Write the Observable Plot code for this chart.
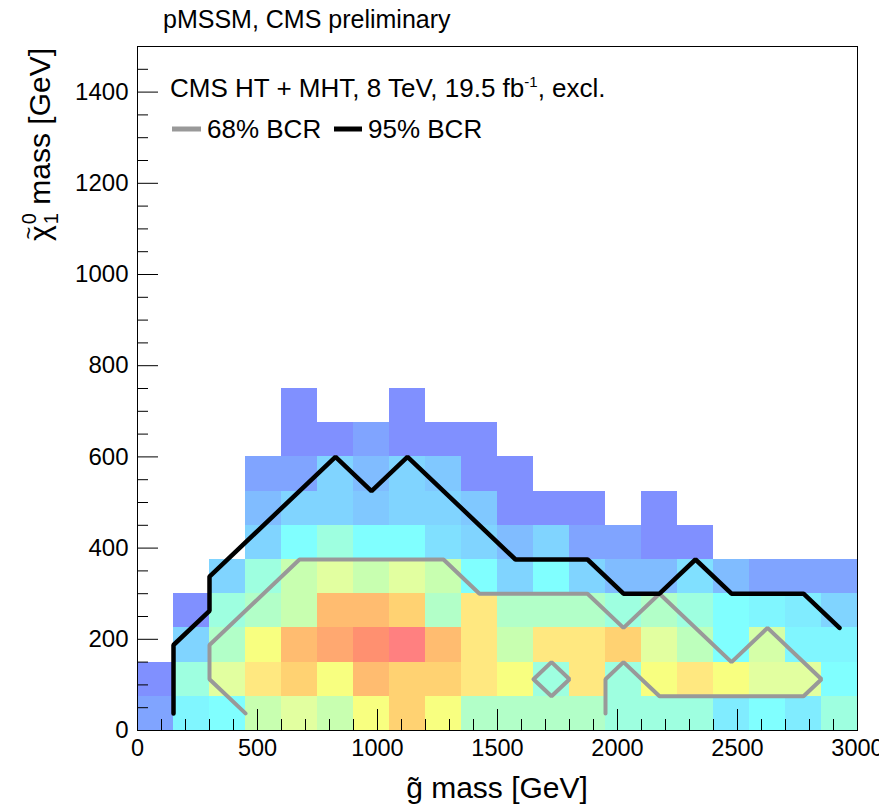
<!DOCTYPE html>
<html><head><meta charset="utf-8">
<script src="https://cdn.jsdelivr.net/npm/d3@7"></script>
<script src="https://cdn.jsdelivr.net/npm/@observablehq/plot@0.6"></script>
<style>
body{margin:0;background:#fff;}
#chart{position:relative;width:879px;height:811px;}
svg text{white-space:pre;}
</style></head><body><div id="chart"></div>
<script>
// Bin edges (GeV)
const xEdges = [0,150,300,450,600,750,900,1050,1200,1350,1500,1650,1800,1950,2100,2250,2400,2550,2700,2850,3000];
const yEdges = [0,75,150,225,300,375,450,525,600,675,750];

// Cell levels (colour index), row by row from bottom (y bin 0) to top
const row0 = [2,5.5,6,9,10,9,11,13,11,8,8,8,8,7,7,7,5,6,5,7];
const row1 = [1,7,10,12,13,11,14,13,13,12,11,7,12,7,11,12,11,10,10,6];
const row2 = [null,4,8,11,14,15,16,17,14,12,9,12,12,13,10,8.5,6,9.5,5.5,5.5];
const row3 = [null,1,7,8,9,14,14,13,8,12,8,8,8,7,8,7,6,5.5,5,4];
const row4 = [null,null,4,7,9,10,9,10,9,6,4,6,4,3,3,4.5,3,2,2,2];
const row5 = [null,null,null,4,6,7,6,6,4.5,4,3,4,2,2,1,1,null,null,null,null];
const row6 = [null,null,null,3,4,4,3.5,4,4,3.5,1,1,1,null,1,null,null,null,null,null];
const row7 = [null,null,null,2,2,4,3,4,3.5,1,1,null,null,null,null,null,null,null,null,null];
const row8 = [null,null,null,null,1,1,2,1,1,1,null,null,null,null,null,null,null,null,null,null];
const row9 = [null,null,null,null,1,null,null,1,null,null,null,null,null,null,null,null,null,null,null,null];
const zRows = [row0,row1,row2,row3,row4,row5,row6,row7,row8,row9];

// Colour levels -> palette (semi-transparent rainbow on white)
const levels  = [1,2,3,4,5,6,7,8,9,10,11,12,13,14,15,16,17];
const palette = ["#8090ff","#80a4ff","#80bcff","#80d4ff","#80ecff","#80ffff","#9effe0","#b2ffc8","#c8ffb0","#e2ffa0","#f8ff80","#ffe880","#ffd272","#ffbc70","#ffa870","#ff9070","#ff8080"];

// 95% BCR contour
const c95x = [150,150,300,300,825,975,1125,1575,1875,2025,2175,2325,2475,2775,2925];
const c95y = [37.5,187.5,262.5,337.5,600,525,600,375,375,300,300,375,300,300,225];
// 68% BCR contour (main) and island
const c68x = [450,300,300,675,1275,1425,1875,2025,2175,2475,2625,2850,2775,2175,2025,1950,1950];
const c68y = [37.5,112.5,187.5,375,375,300,300,225,300,150,225,112.5,75,75,150,112.5,37.5];
const c68bx = [1650,1725,1800,1725,1650];
const c68by = [112.5,150,112.5,75,112.5];

// Axis ticks
const xMajor = [0,500,1000,1500,2000,2500,3000];
const xMinor = [100,200,300,400,600,700,800,900,1100,1200,1300,1400,1600,1700,1800,1900,2100,2200,2300,2400,2600,2700,2800,2900];
const yMajor = [0,200,400,600,800,1000,1200,1400];
const yMinor = [50,100,150,250,300,350,450,500,550,650,700,750,850,900,950,1050,1100,1150,1250,1300,1350,1450];

const cells = [];
zRows.forEach((row, j) => row.forEach((z, i) => {
  if (z != null) cells.push({x1: xEdges[i], x2: xEdges[i+1], y1: yEdges[j], y2: yEdges[j+1], z});
}));
const pts = (xs, ys) => xs.map((x, k) => ({x, y: ys[k]}));

const FONT = "Liberation Sans, Arial, Helvetica, sans-serif";
const plot = Plot.plot({
  width: 879, height: 811,
  marginLeft: 137, marginRight: 22, marginTop: 46, marginBottom: 81,
  style: {fontFamily: FONT, background: "white", color: "black", overflow: "visible"},
  x: {domain: [0, 3000]},
  y: {domain: [0, 1500]},
  color: {type: "linear", domain: levels, range: palette},
  marks: [
    Plot.rect(cells, {x1: "x1", x2: "x2", y1: "y1", y2: "y2", fill: "z", shapeRendering: "crispEdges"}),
    Plot.line(pts(c68x, c68y), {x: "x", y: "y", stroke: "#999", strokeWidth: 4, strokeLinejoin: "miter"}),
    Plot.line(pts(c68bx, c68by), {x: "x", y: "y", stroke: "#999", strokeWidth: 4, strokeLinejoin: "miter"}),
    Plot.line(pts(c95x, c95y), {x: "x", y: "y", stroke: "black", strokeWidth: 4.5, strokeLinejoin: "miter"}),
    Plot.tickX(xMajor, {x: d => d, insetTop: 684 - 21, stroke: "black"}),
    Plot.tickX(xMinor, {x: d => d, insetTop: 684 - 11, stroke: "black"}),
    Plot.tickY(yMajor, {y: d => d, insetRight: 720 - 21, stroke: "black"}),
    Plot.tickY(yMinor, {y: d => d, insetRight: 720 - 11, stroke: "black"}),
    Plot.axisX(xMajor, {tickSize: 0, tickPadding: 9, fontSize: 23.5, label: null, tickFormat: d3.format("d")}),
    Plot.axisY(yMajor, {tickSize: 0, tickPadding: 9, fontSize: 24, label: null, tickFormat: d3.format("d")}),
    Plot.frame({stroke: "black"})
  ]
});
document.getElementById("chart").appendChild(plot);

const svg = d3.select(plot);
const g = svg.append("g").attr("font-family", FONT).attr("fill", "black").attr("text-anchor", "start");

// Title
g.append("text").attr("x", 163).attr("y", 28).attr("font-size", 25).text("pMSSM, CMS preliminary");

// Legend
const l1 = g.append("text").attr("x", 170).attr("y", 97).attr("font-size", 26);
l1.append("tspan").text("CMS HT + MHT, 8 TeV, 19.5 fb");
l1.append("tspan").attr("font-size", 15).attr("dy", -10).text("-1");
l1.append("tspan").attr("dy", 10).text(", excl.");
g.append("line").attr("x1", 172).attr("x2", 201).attr("y1", 129).attr("y2", 129).attr("stroke", "#999").attr("stroke-width", 5);
g.append("text").attr("x", 207).attr("y", 138).attr("font-size", 26).text("68% BCR");
g.append("line").attr("x1", 334).attr("x2", 362).attr("y1", 129).attr("y2", 129).attr("stroke", "black").attr("stroke-width", 5);
g.append("text").attr("x", 368).attr("y", 138).attr("font-size", 26).text("95% BCR");

// Axis titles
g.append("text").attr("x", 497).attr("y", 798).attr("text-anchor", "middle").attr("font-size", 30).text("g\u0303 mass [GeV]");
const yg = g.append("g").attr("transform", "translate(50,48) rotate(-90)");
const yt = yg.append("text").attr("text-anchor", "end").attr("font-size", 30);
yt.append("tspan").text("\u03C7");
yt.append("tspan").attr("font-size", 20).attr("dx", 1).attr("dy", 8).text("1");
yt.append("tspan").attr("font-size", 20).attr("dx", -11).attr("dy", -22).text("0");
yt.append("tspan").attr("dy", 14).text(" mass [GeV]");
// tilde over the chi, centred on the chi glyph
const chi = yt.node().getExtentOfChar(0);
yg.append("text").attr("text-anchor", "middle").attr("font-size", 22)
  .attr("x", chi.x + chi.width / 2).attr("y", -14).text("~");
</script></body></html>
